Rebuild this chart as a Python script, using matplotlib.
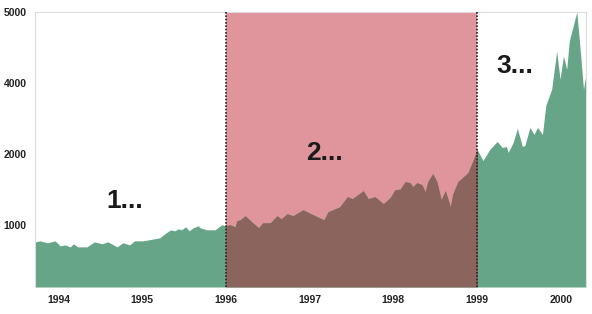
import numpy as np
import matplotlib
matplotlib.use("Agg")
import matplotlib.pyplot as plt

# index level (decimal year, value)
years = [1993.72, 1993.78, 1993.87, 1993.96, 1994.02, 1994.08, 1994.14, 1994.18,
         1994.23, 1994.34, 1994.43, 1994.52, 1994.59, 1994.70, 1994.77, 1994.85,
         1994.91, 1995.01, 1995.21, 1995.27, 1995.34, 1995.39, 1995.43, 1995.47,
         1995.52, 1995.56, 1995.61, 1995.67, 1995.69, 1995.77, 1995.87, 1995.95,
         1995.99, 1996.05, 1996.11, 1996.13, 1996.17, 1996.23, 1996.32, 1996.39,
         1996.44, 1996.53, 1996.61, 1996.66, 1996.73, 1996.80, 1996.92, 1997.04,
         1997.17, 1997.22, 1997.36, 1997.45, 1997.51, 1997.64, 1997.70, 1997.78,
         1997.88, 1997.96, 1998.02, 1998.08, 1998.14, 1998.20, 1998.23, 1998.28,
         1998.34, 1998.38, 1998.41, 1998.47, 1998.52, 1998.57, 1998.62, 1998.68,
         1998.71, 1998.77, 1998.89, 1998.94, 1999.00, 1999.07, 1999.15, 1999.24,
         1999.30, 1999.35, 1999.37, 1999.43, 1999.48, 1999.54, 1999.57, 1999.63,
         1999.68, 1999.72, 1999.78, 1999.82, 1999.89, 1999.95, 1999.99, 2000.03,
         2000.07, 2000.10, 2000.19, 2000.23, 2000.27, 2000.30]
values = [726, 742, 710, 742, 661, 677, 645, 694,
          645, 645, 726, 694, 726, 645, 710, 677,
          742, 742, 790, 855, 919, 903, 935, 919,
          968, 903, 952, 984, 952, 919, 919, 1000,
          984, 1000, 968, 1056, 1070, 1127, 1028, 952,
          1028, 1028, 1127, 1084, 1155, 1127, 1211, 1141,
          1070, 1183, 1253, 1394, 1366, 1479, 1366, 1394,
          1296, 1380, 1493, 1500, 1605, 1591, 1535, 1591,
          1563, 1465, 1605, 1718, 1605, 1352, 1479, 1253,
          1437, 1605, 1732, 1873, 2114, 1901, 2114, 2343,
          2171, 2200, 2029, 2314, 2714, 2200, 2229, 2743,
          2543, 2743, 2543, 3371, 3829, 4451, 4056, 4380,
          4197, 4591, 5000, 4479, 3829, 4127]

phase_start = 1996.0
phase_end = 1999.0
tick_years = [1994, 1995, 1996, 1997, 1998, 1999, 2000]
ytick_vals = [1000, 2000, 4000, 5000]
labels = [("1...", 1994.79, 1330), ("2...", 1997.18, 2020), ("3...", 1999.45, 4240)]

# the value axis is stretched unevenly: ticks sit at equal spacing
scale_vals = [0, 1000, 2000, 4000, 5000]
scale_pos = [0, 62, 133, 203, 274]


def fwd(v):
    return np.interp(v, scale_vals, scale_pos)


def inv(p):
    return np.interp(p, scale_pos, scale_vals)


x = np.array(years)
y = np.array(values)

fig = plt.figure(figsize=(5.92, 3.14), dpi=100)
ax = fig.add_axes([35 / 592, 27 / 314, 551 / 592, 275 / 314])
ax.set_yscale("function", functions=(fwd, inv))

green = "#67a588"
pink = "#e0959d"
brown = "#8b645d"

span = ax.axvspan(phase_start, phase_end, color=pink, lw=0, zorder=0)
ax.fill_between(x, 0, y, color=green, lw=0, zorder=1)
mid = ax.fill_between(x, 0, y, color=brown, lw=0, zorder=2)
mid.set_clip_path(span)
for xv in (phase_start, phase_end):
    ax.axvline(xv, color="#222222", ls=(0, (1, 1)), lw=1.2, zorder=3)

for txt, xt, yt in labels:
    ax.text(xt, yt, txt, fontsize=19, fontweight="bold", color="#1a1a1a",
            family="Liberation Sans", ha="center", va="center", zorder=4)

ax.set_xlim(1993.72, 2000.30)
ax.set_ylim(0, 5010)
ax.set_xticks(tick_years)
ax.set_xticklabels([str(t) for t in tick_years])
ax.set_yticks(ytick_vals)
ax.set_yticklabels([str(t) for t in ytick_vals])
ax.minorticks_off()
ax.tick_params(length=0, labelsize=7.5, labelcolor="#222222", pad=6)
for lab in ax.get_xticklabels() + ax.get_yticklabels():
    lab.set_fontfamily("Liberation Sans")
    lab.set_fontweight("bold")

for side in ("left", "top", "right"):
    ax.spines[side].set_color("#dddddd")
    ax.spines[side].set_linewidth(0.8)
ax.spines["bottom"].set_visible(False)

fig.savefig("out.png", dpi=100)
